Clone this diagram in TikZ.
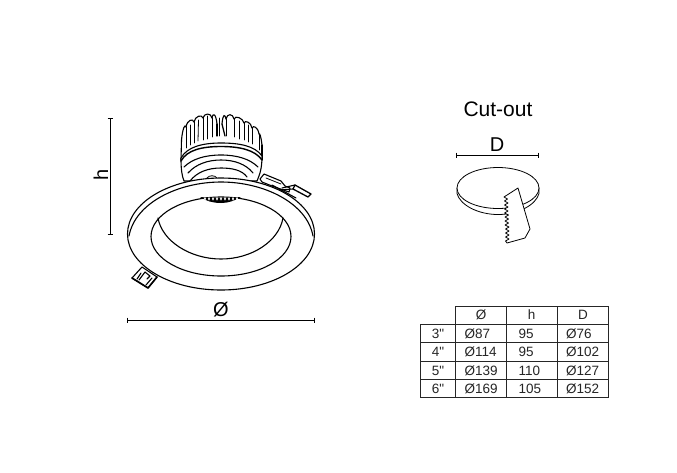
\documentclass[tikz,border=0pt]{standalone}
\usepackage{fontspec}
\setmainfont{Liberation Sans}
\newfontfamily\plainfont{Liberation Sans}
\begin{document}
\begin{tikzpicture}[x=1pt,y=-1pt,
  ln/.style={draw=black,line width=1.1pt,line join=round,line cap=round},
  thn/.style={draw=black,line width=0.8pt,line join=round,line cap=round},
  dimline/.style={draw=black,line width=0.9pt},
  tick/.style={draw=black,line width=0.9pt},
  grid/.style={draw=black!85,line width=1pt},
  lab/.style={inner sep=0pt,font=\fontsize{20}{20}\plainfont},
  cell/.style={inner sep=0pt,font=\fontsize{13.5}{13.5}\plainfont,text=black!85},
  lcell/.style={cell,anchor=west}]
\useasboundingbox (0,0) rectangle (677,472);
\fill[white] (0,0) rectangle (677,472);

% ---- heat sink
\fill[white] (181,160) -- (181,135) -- (190,120) -- (220,112) -- (250,120) -- (262,137) -- (262,160) -- cycle;
\foreach \xa/\ya/\xb/\yb/\ba/\bb in {
  181.5/140/186/127/129/123,
  186/127/194/122/120/118,
  194/122/203/118/116/114,
  203/118/212/118/113/112.5,
  212/118/217/124/112/114,
  222/124/226/119/113/114,
  226/119/234/119/113/113.5,
  234/119/244/123/115/118,
  244/123/252/128/120/122,
  252/128/259/134/125/127,
  259/134/262/145/133/137}
  \draw[ln] (\xa,\ya) .. controls (\xa+1,\ba) and (\xb-1,\bb) .. (\xb,\yb);
\draw[ln] (181.5,140) -- (181,160);
\draw[ln] (262,145) -- (262,160);
\foreach \xa/\ya/\xb/\yb in {186/148/186/127,194/143/194/122,203/140/203/118,212/137/212/118,
  234/137/234/119,244/140/244/123,252/144/252/128,259/150/259/134,190/145/190/125,198/141/198.5/120,
  239/139/239/121,248/142/248/125,207/139/207/116}
  \draw[thn] (\xa,\ya) -- (\xb,\yb);
\draw[ln,line width=1.3pt] (217,124) -- (217,136);
\draw[ln,line width=1.3pt] (222,124) -- (225,136);
\draw[thn] (219.5,136) -- (219.5,118);
\draw[thn] (226,119) -- (226,136);

% ---- collar
\draw[ln,fill=white] (181,158) .. controls (181,170) and (182,176) .. (184,181) -- (257,181)
  .. controls (260,174) and (262,168) .. (262,156)
  .. controls (255,146) and (240,143) .. (221,143) .. controls (202,143) and (187,147) .. (181,158) -- cycle;
\draw[ln,line width=1.4pt] (181,161) .. controls (187,150) and (202,146.5) .. (221,146.5) .. controls (240,146.5) and (255,150) .. (262,160);
\draw[ln] (184,167) .. controls (192,159) and (205,155) .. (221,155) .. controls (237,155) and (250,159) .. (258,167);
\draw[ln] (188,173) .. controls (196,164) and (208,160) .. (221,160) .. controls (234,160) and (246,164) .. (253,173);
\draw[ln] (190,181) .. controls (197,172) and (208,168) .. (221,168) .. controls (232,168) and (242,170) .. (247,177);
\draw[thn] (207,178) .. controls (209,175) and (215,175) .. (217,178);

% ---- right clip
\draw[ln,fill=white] (260,179) -- (264,174) -- (281,181) -- (285,186) -- (290,188) -- (289,192) -- (272,186) -- (262,182) -- cycle;
\draw[thn] (266,178) -- (281,184);
\draw[ln,fill=white,line width=1.3pt] (295,185) -- (311,194) -- (308,197) -- (293,189) -- cycle;
\draw[ln] (282,188) -- (295,185);
\draw[ln] (278,190) -- (293,189);
\draw[ln] (272,185) -- (296,198);

% ---- left clip
\draw[ln,fill=white] (132,278) -- (142,267) -- (157,277) -- (148,288) -- cycle;
\draw[ln,line width=1.6pt] (132,278) -- (148,288) -- (157,277);
\draw[ln] (139,280) -- (145,272) -- (150,276) -- (147,279);
\draw[ln] (137,279) -- (141,273);
\draw[ln] (146,285) -- (152,278);

% ---- trim ring
\draw[ln,fill=white] (221,234) ellipse [x radius=93.5,y radius=56];
\draw[ln] (129,236) .. controls (135,203) and (178,182) .. (221,182) .. controls (264,182) and (307,203) .. (313,236);
\draw[ln] (221,236.5) ellipse [x radius=70,y radius=39.5];
\draw[ln] (158,218) .. controls (162,241) and (190,259) .. (221,259) .. controls (252,259) and (279,241) .. (283,218);
% teeth
\fill[black] (200,197) .. controls (208,198) and (232,198) .. (241,197) .. controls (234,201) and (228,203) .. (221,203) .. controls (213,203) and (206,201) .. (200,197) -- cycle;
\foreach \x in {205,209,213,217,221,225,229,233,237}
  \fill[white] (\x,198.8) ellipse [x radius=1.1,y radius=1.7];

% ---- dimensions
\coordinate (ha) at (110,118); \coordinate (hb) at (110,234);
\draw[dimline] (ha) -- (hb);
\draw[tick] (107.5,118) -- (112.5,118);
\draw[tick] (107.5,234) -- (112.5,234);
\node[lab,rotate=90] (hl) at (101,175) {h};
\coordinate (wa) at (127.5,320); \coordinate (wb) at (314,320);
\draw[dimline] (wa) -- (wb);
\draw[tick] (127.5,317.5) -- (127.5,323);
\draw[tick] (314,317.5) -- (314,323);
\node[lab] (wl) at (221,310) {Ø};

% ---- cut-out
\node[inner sep=0pt,font=\fontsize{21}{21}\plainfont] (title) at (498,109) {Cut-out};
\coordinate (da) at (456.5,155); \coordinate (db) at (538,155);
\draw[dimline] (da) -- (db);
\draw[tick] (456.5,152.5) -- (456.5,157.5);
\draw[tick] (538,152.5) -- (538,157.5);
\node[lab] (dl) at (497,145) {D};

\draw[thn,fill=white] (457,188) -- (457,193.5) .. controls (460,205) and (478,214.5) .. (498,214.5) .. controls (518,214.5) and (536,205) .. (539,193.5) -- (539,188) -- cycle;
\draw[thn,fill=white] (498,188) ellipse [x radius=41,y radius=20.5];
\draw[thn,fill=white] (504,197) -- (518,188) -- (530,229) -- (525,238) -- (507,243)
 -- (505.5,241) -- (509,239) -- (505.5,237) -- (509,235) -- (505.5,233) -- (509,231) -- (505.5,229) -- (509,227)
 -- (505,225) -- (508.5,223) -- (505,221) -- (508.5,219) -- (505,217) -- (508.5,215) -- (504.5,213) -- (508,211)
 -- (504.5,209) -- (508,207) -- (504.5,205) -- (508,203) -- (504.5,201) -- (507.5,199) -- cycle;

% ---- table
\foreach \y in {306,324} \draw[grid] (455.5,\y) -- (608,\y);
\foreach \y in {342.7,361.5,379.3,397.5} \draw[grid] (420.5,\y) -- (608,\y);
\draw[grid] (420.5,324) -- (455.5,324);
\draw[grid] (420.5,324) -- (420.5,397.5);
\foreach \x in {455.7,506.7,557.7,608} \draw[grid] (\x,306) -- (\x,397.5);

\node[cell] (c0a) at (481,315) {Ø};
\node[cell] (c0b) at (531.5,315) {h};
\node[cell] (c0c) at (583,315) {D};
\node[cell] (r1) at (438,333.5) {3"};
\node[cell] (r2) at (438,352) {4"};
\node[cell] (r3) at (438,370.5) {5"};
\node[cell] (r4) at (438,388.5) {6"};
\node[lcell] (a1) at (464.5,333.5) {Ø87};
\node[lcell] (b1) at (518.5,333.5) {95};
\node[lcell] (d1) at (566,333.5) {Ø76};
\node[lcell] (a2) at (464.5,352) {Ø114};
\node[lcell] (b2) at (518.5,352) {95};
\node[lcell] (d2) at (566,352) {Ø102};
\node[lcell] (a3) at (464.5,370.5) {Ø139};
\node[lcell] (b3) at (518.5,370.5) {110};
\node[lcell] (d3) at (566,370.5) {Ø127};
\node[lcell] (a4) at (464.5,388.5) {Ø169};
\node[lcell] (b4) at (518.5,388.5) {105};
\node[lcell] (d4) at (566,388.5) {Ø152};
\end{tikzpicture}
\end{document}
